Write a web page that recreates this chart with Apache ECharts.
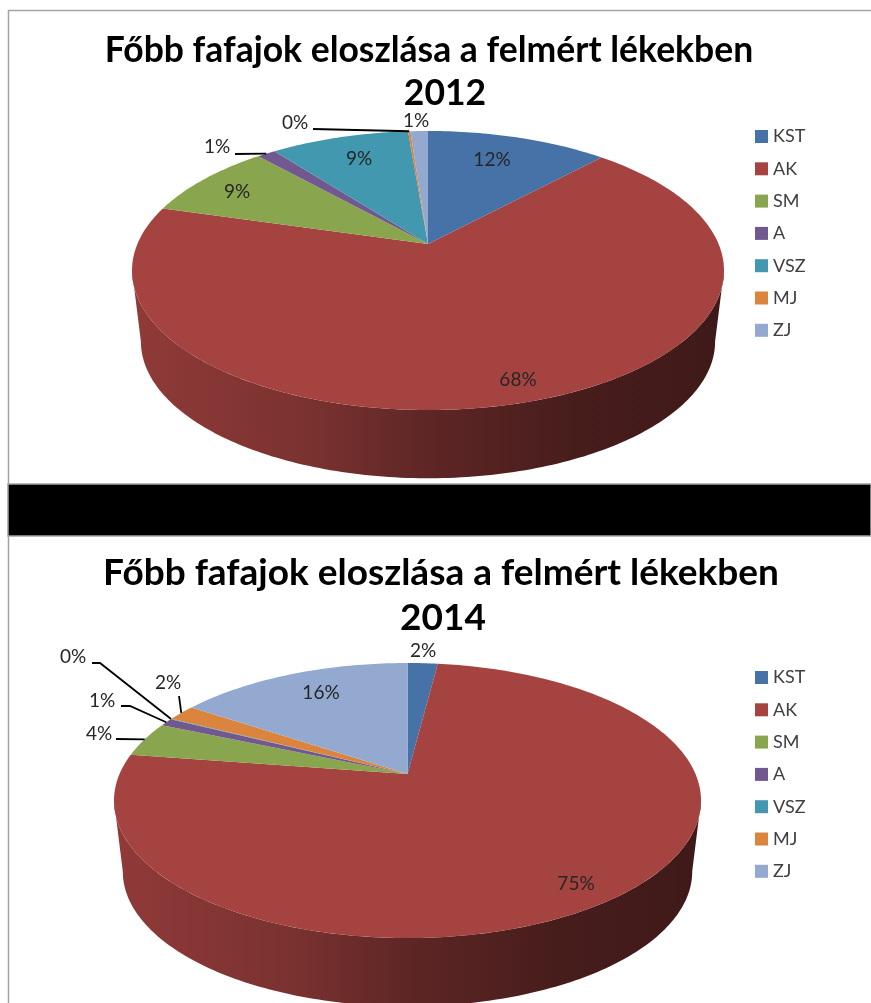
<!DOCTYPE html>
<html>
<head>
<meta charset="utf-8">
<title>Főbb fafajok eloszlása</title>
<script src="https://cdn.jsdelivr.net/npm/echarts@6/dist/echarts.min.js"></script>
<style>
    html, body { margin: 0; padding: 0; background: #fff; }
    #chart { width: 871px; height: 1003px; }
</style>
</head>
<body>
<div id="chart"></div>
<script>
var categories = ['KST', 'AK', 'SM', 'A', 'VSZ', 'MJ', 'ZJ'];
var values2012 = [11.9, 67.5, 8.9, 1.2, 9.1, 0.15, 1.15];
var values2014 = [2.0, 75.4, 4.1, 0.9, 0.1, 1.9, 15.6];
var colorList = ['#4672a8', '#a54341', '#89a64e', '#71588f', '#4198af', '#db843d', '#93a9cf'];
var titleText = 'Főbb fafajok eloszlása a felmért lékekben';
var fontName = 'Lato, "Noto Sans", sans-serif';

// label spot per slice, line = leader elbows; the leader always ends on the rim
var spots2012 = [
    {x: 492, y: 160}, {x: 518, y: 380}, {x: 237, y: 192},
    {x: 217, y: 147, line: [[235, 154]]}, {x: 359, y: 159},
    {x: 295, y: 123, line: [[313, 129]]}, {x: 416, y: 121}
];
var spots2014 = [
    {x: 423, y: 651}, {x: 576, y: 884}, {x: 99, y: 734, line: [[116, 739]]},
    {x: 102, y: 701, line: [[121, 706], [130, 706]]},
    {x: 73, y: 657, line: [[92, 663], [100, 663]]},
    {x: 168, y: 683, line: [[179, 696]]}, {x: 321, y: 693}
];

// a = horizontal scale, b = vertical scale, k = perspective, apexY = where the slices meet
var pie2012 = {values: values2012, spots: spots2012, cx: 428, apexY: 244, a: 290.6, b: 134.5, k: 0.19, midY: 270, depth: 71};
var pie2014 = {values: values2014, spots: spots2014, cx: 407.5, apexY: 774, a: 288, b: 132.4, k: 0.193, midY: 801, depth: 71};

function rimPoint(pie, deg) {
    var t = deg * Math.PI / 180;
    var w = 1 + pie.k * Math.cos(t);
    return [pie.cx + pie.a * Math.sin(t) / w, pie.apexY - pie.b * Math.cos(t) / w];
}

function lowerPoint(pie, p) {
    return [pie.cx + (p[0] - pie.cx) * 0.97, pie.midY + (p[1] - pie.midY) * 0.98 + pie.depth];
}

function shade(color, f) {
    var n = parseInt(color.substring(1), 16);
    return 'rgb(' + Math.round((n >> 16) * f) + ',' + Math.round(((n >> 8) & 255) * f) + ',' + Math.round((n & 255) * f) + ')';
}

function sumOf(list) {
    var s = 0;
    for (var i = 0; i < list.length; i++) { s += list[i]; }
    return s;
}

// the wall only shows between the two points where the rim turns back
function wallPoints(pie, start, end) {
    var turn = Math.acos(-pie.k) * 180 / Math.PI;
    var from = Math.max(start, turn);
    var to = Math.min(end, 360 - turn);
    if (to <= from) { return null; }
    var upper = [], lower = [];
    var steps = Math.ceil(to - from);
    for (var i = 0; i <= steps; i++) {
        var p = rimPoint(pie, from + (to - from) * i / steps);
        upper.push(p);
        lower.unshift(lowerPoint(pie, p));
    }
    return upper.concat(lower);
}

function sliceSeries(pie, index) {
    return {
        type: 'custom',
        name: categories[index],
        coordinateSystem: 'none',
        silent: true,
        itemStyle: {color: colorList[index]},
        data: [[pie.values[index]]],
        renderItem: function (params, api) {
            var total = sumOf(pie.values);
            var before = sumOf(pie.values.slice(0, index));
            var start = before / total * 360;
            var end = (before + api.value(0)) / total * 360;
            var top = [];
            var steps = Math.max(2, Math.ceil(end - start));
            for (var i = 0; i <= steps; i++) {
                top.push(rimPoint(pie, start + (end - start) * i / steps));
            }
            var color = colorList[index];
            var spot = pie.spots[index];
            var children = [
                {
                    type: 'polygon', z2: 2,
                    shape: {points: [[pie.cx, pie.apexY]].concat(top)},
                    style: {fill: color}
                },
                {
                    type: 'text', z2: 4,
                    style: {
                        text: Math.round(api.value(0)) + '%',
                        x: spot.x, y: spot.y,
                        align: 'center', verticalAlign: 'middle',
                        fill: '#262626',
                        font: '19px ' + fontName
                    }
                }
            ];
            var wall = wallPoints(pie, start, end);
            if (wall) {
                children.push({
                    type: 'polygon', z2: 1,
                    shape: {points: wall},
                    style: {
                        fill: new echarts.graphic.LinearGradient(0, 0, 1, 0, [
                            {offset: 0, color: shade(color, 0.87)},
                            {offset: 0.3, color: shade(color, 0.74)},
                            {offset: 0.5, color: shade(color, 0.57)},
                            {offset: 0.75, color: shade(color, 0.43)},
                            {offset: 1, color: shade(color, 0.38)}
                        ])
                    }
                });
            }
            if (spot.line) {
                children.push({
                    type: 'polyline', z2: 3,
                    shape: {points: spot.line.concat([rimPoint(pie, (start + end) / 2)])},
                    style: {stroke: '#000', lineWidth: 1.8, fill: null}
                });
            }
            return {type: 'group', children: children};
        }
    };
}

function frameLine(x1, y1, x2, y2) {
    return {
        type: 'line', silent: true, z: 0,
        shape: {x1: x1, y1: y1, x2: x2, y2: y2},
        style: {stroke: '#a3a3a3', lineWidth: 1.5}
    };
}

function legendFor(top) {
    return {
        data: categories, orient: 'vertical', left: 755, top: top, padding: 0,
        itemWidth: 13, itemHeight: 13, itemGap: 13.3, selectedMode: false,
        icon: 'rect',
        textStyle: {fontFamily: fontName, fontSize: 18, color: '#404040', lineHeight: 19, height: 19}
    };
}

function titleFor(text, left, top, size) {
    return {
        text: text,
        left: left, top: top, textAlign: 'center', padding: 0,
        textStyle: {fontFamily: fontName, fontWeight: 'bold', fontSize: size, lineHeight: 44, color: '#000'}
    };
}

var series = [];
for (var i = 0; i < categories.length; i++) {
    series.push(sliceSeries(pie2012, i));
    series.push(sliceSeries(pie2014, i));
}

var myChart = echarts.init(document.getElementById('chart'), null, {renderer: 'canvas'});
myChart.setOption({
    animation: false,
    backgroundColor: '#fff',
    title: [
        titleFor(titleText, 429, 29, 35.5),
        titleFor('2012', 445, 72, 35.5),
        titleFor(titleText, 441, 551, 37),
        titleFor('2014', 443, 596, 37)
    ],
    legend: [legendFor(127), legendFor(668)],
    graphic: [
        frameLine(8, 10.5, 871, 10.5),
        frameLine(8.5, 10, 8.5, 1003),
        {
            type: 'rect', silent: true, z: 0,
            shape: {x: 8, y: 484, width: 863, height: 52},
            style: {fill: '#000', stroke: '#a3a3a3', lineWidth: 1.5}
        }
    ],
    series: series
});
</script>
</body>
</html>
